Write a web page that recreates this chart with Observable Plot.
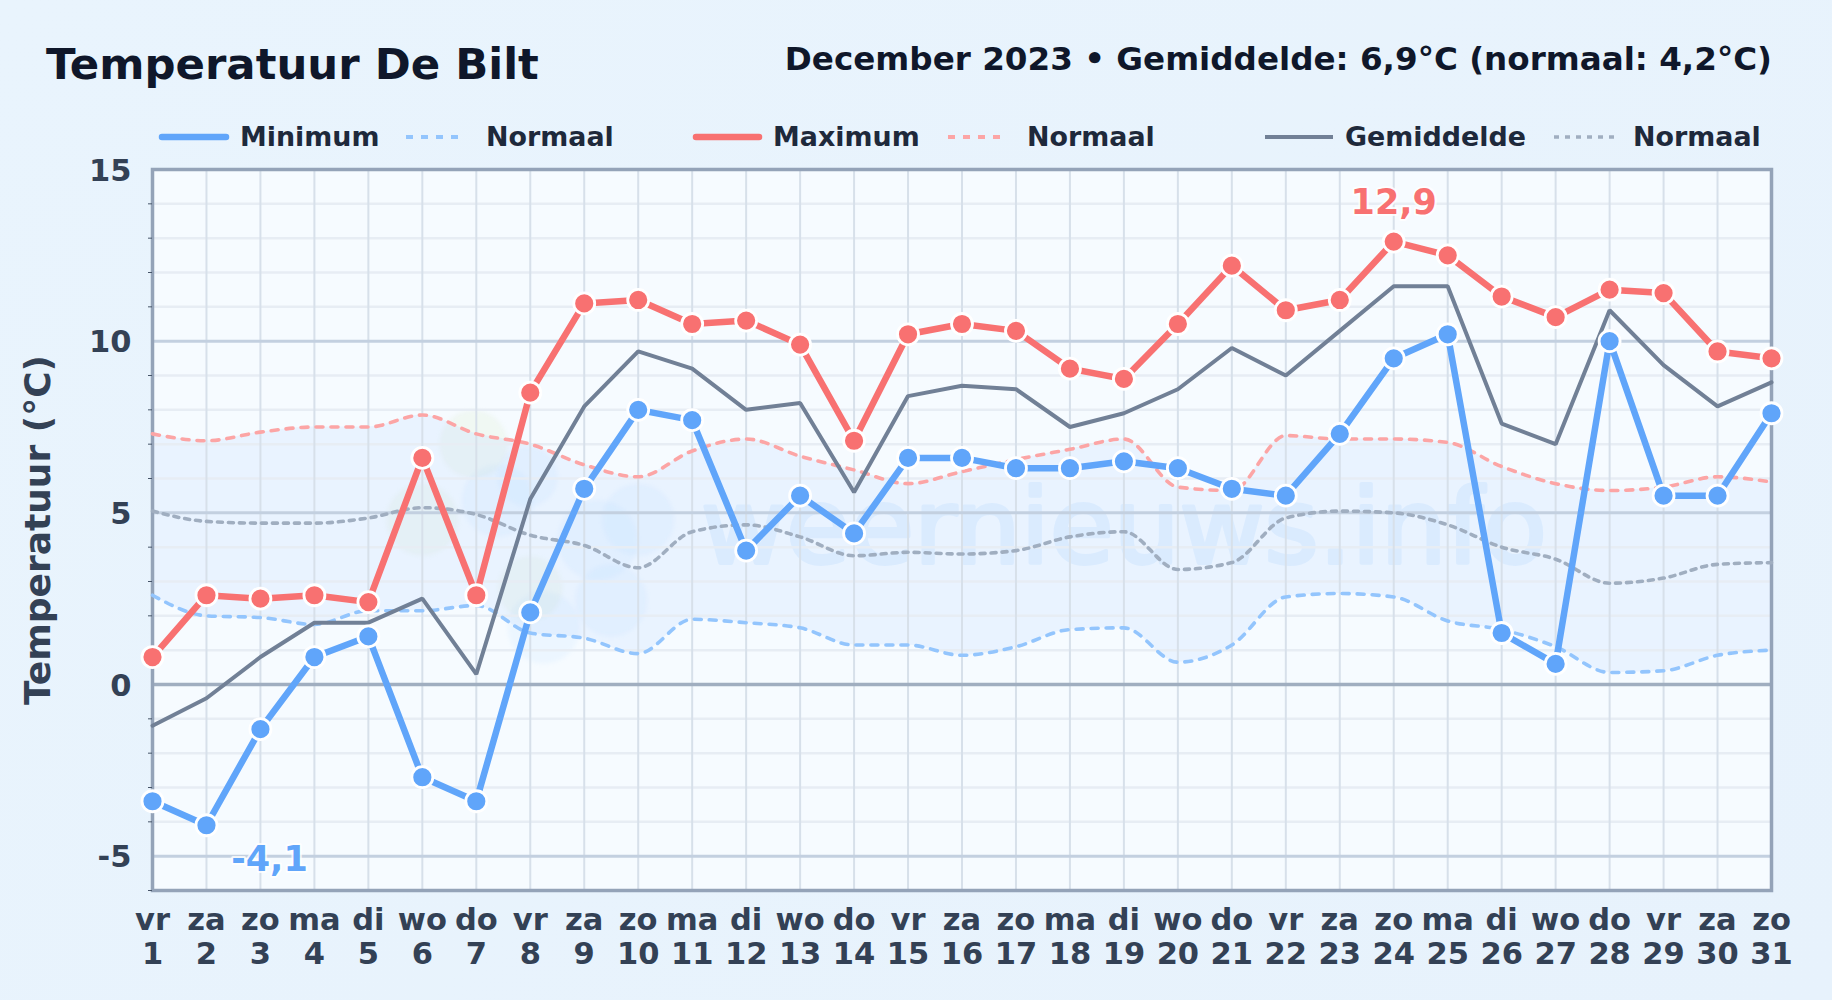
<!DOCTYPE html>
<html><head><meta charset="utf-8">
<script src="https://cdn.jsdelivr.net/npm/d3@7"></script>
<script src="https://cdn.jsdelivr.net/npm/@observablehq/plot@0.6"></script>
<style>
html,body{margin:0;padding:0;width:1832px;height:1000px;overflow:hidden;background:linear-gradient(135deg,#e9f4fd,#e7f2fc);font-family:"DejaVu Sans",sans-serif;}
#head{position:relative;height:140px;width:1832px;}
#head div{position:absolute;white-space:nowrap;font-weight:700;}
#title{left:46px;top:39px;font-size:43.4px;line-height:50px;color:#0f172a;}
#sub{right:60px;top:41px;font-size:32.6px;line-height:36px;color:#0f172a;}
.lg{top:121px;font-size:26.9px;line-height:32px;color:#1e293b;}
#head svg{position:absolute;left:0;top:0;}
svg{overflow:visible;background:transparent;}
</style></head><body>
<div id="head">
<div id="title">Temperatuur De Bilt</div>
<div id="sub">December 2023 • Gemiddelde: 6,9°C (normaal: 4,2°C)</div>
<svg width="1832" height="140">
<line x1="162" x2="226" y1="137" y2="137" stroke="#60a5fa" stroke-width="6.5" stroke-linecap="round"/>
<line x1="406" x2="466" y1="137" y2="137" stroke="#93c5fd" stroke-width="4" stroke-dasharray="7 8"/>
<line x1="696" x2="759" y1="137" y2="137" stroke="#f87171" stroke-width="6.5" stroke-linecap="round"/>
<line x1="948" x2="1008" y1="137" y2="137" stroke="#fca5a5" stroke-width="4" stroke-dasharray="7 8"/>
<line x1="1265" x2="1333" y1="137" y2="137" stroke="#718096" stroke-width="4"/>
<line x1="1554" x2="1620" y1="137" y2="137" stroke="#a0aec0" stroke-width="3.5" stroke-dasharray="5 6"/>
</svg>
<div class="lg" style="left:240px">Minimum</div>
<div class="lg" style="left:486px">Normaal</div>
<div class="lg" style="left:773px">Maximum</div>
<div class="lg" style="left:1027px">Normaal</div>
<div class="lg" style="left:1345px">Gemiddelde</div>
<div class="lg" style="left:1633px">Normaal</div>
</div>
<div id="chart"></div>
<script>
const days = d3.range(1, 32);
const dayNames = ["vr","za","zo","ma","di","wo","do","vr","za","zo","ma","di","wo","do","vr","za","zo","ma","di","wo","do","vr","za","zo","ma","di","wo","do","vr","za","zo"];
const tMin = [-3.4,-4.1,-1.3,0.8,1.4,-2.7,-3.4,2.1,5.7,8.0,7.7,3.9,5.5,4.4,6.6,6.6,6.3,6.3,6.5,6.3,5.7,5.5,7.3,9.5,10.2,1.5,0.6,10.0,5.5,5.5,7.9];
const tMax = [0.8,2.6,2.5,2.6,2.4,6.6,2.6,8.5,11.1,11.2,10.5,10.6,9.9,7.1,10.2,10.5,10.3,9.2,8.9,10.5,12.2,10.9,11.2,12.9,12.5,11.3,10.7,11.5,11.4,9.7,9.5];
const tMean = [-1.2,-0.4,0.8,1.8,1.8,2.5,0.3,5.4,8.1,9.7,9.2,8.0,8.2,5.6,8.4,8.7,8.6,7.5,7.9,8.6,9.8,9.0,10.3,11.6,11.6,7.6,7.0,10.9,9.3,8.1,8.8];
const normMax = [7.3,7.1,7.35,7.5,7.5,7.85,7.3,7.0,6.4,6.05,6.8,7.15,6.65,6.25,5.85,6.2,6.55,6.85,7.15,5.75,5.65,7.25,7.15,7.15,7.05,6.35,5.85,5.65,5.75,6.05,5.9];
const normMean = [5.05,4.75,4.7,4.7,4.85,5.15,4.95,4.35,4.05,3.4,4.45,4.65,4.3,3.75,3.85,3.8,3.9,4.3,4.45,3.35,3.55,4.85,5.05,5.0,4.65,4.0,3.65,2.95,3.1,3.5,3.55];
const normMin = [2.6,2.0,1.95,1.75,2.15,2.15,2.3,1.5,1.35,0.9,1.9,1.8,1.65,1.15,1.15,0.85,1.1,1.6,1.65,0.65,1.15,2.55,2.65,2.55,1.85,1.6,1.1,0.35,0.4,0.85,1.0];
const majorTicks = [-5,0,5,10,15];
const minorTicks = [-6,-4,-3,-2,-1,1,2,3,4,6,7,8,9,11,12,13,14];
const logoBlueDay = [7.40,9.25,9.50,8.25,10.0,7.95];
const logoBlueTemp = [5.35,4.2,2.45,1.65,4.8,6.05];
const logoBlueR = [36,40,36,36,36,30];
const logoGreenDay = [6.95,6.0,8.0];
const logoGreenTemp = [7.0,4.8,2.8];
const logoGreenR = [34,36,32];
const table = days.map((d,i)=>({d,min:tMin[i],max:tMax[i],mean:tMean[i],nmax:normMax[i],nmean:normMean[i],nmin:normMin[i]}));
const blue = logoBlueDay.map((x,i)=>({x,y:logoBlueTemp[i],r:logoBlueR[i]}));
const green = logoGreenDay.map((x,i)=>({x,y:logoGreenTemp[i],r:logoGreenR[i]}));
const dash = {strokeDasharray:"7 8",strokeWidth:3.6,curve:"monotone-x"};
const chart = Plot.plot({
  width:1832,height:860,marginTop:29,marginBottom:110,marginLeft:152,marginRight:61,
  style:{fontFamily:"'DejaVu Sans',sans-serif",background:"transparent",overflow:"visible"},
  x:{domain:[1,31],type:"linear"},
  y:{domain:[-6,15]},
  r:{type:"identity"},
  marks:[
    Plot.frame({fill:"#f6fbff",stroke:null}),
    Plot.dot(green,{x:"x",y:"y",r:"r",fill:"#d9ecc8",fillOpacity:0.22,imageFilter:"blur(2px)"}),
    Plot.areaY(table,{x:"d",y1:"nmin",y2:"nmax",curve:"monotone-x",fill:"#bfdbfe",fillOpacity:0.24}),
    Plot.dot(blue,{x:"x",y:"y",r:"r",fill:"#93c5fd",fillOpacity:0.09,imageFilter:"blur(2px)"}),
    Plot.text(["weernieuws.info"],{x:() => 19,y:() => 4.5,text:d=>d,fontSize:104,fontWeight:"normal",fill:"#93c5fd",stroke:"#93c5fd",opacity:0.17,strokeWidth:4}),
    Plot.ruleY(minorTicks,{stroke:"#e7edf4",strokeWidth:2.5}),
    Plot.ruleX(days,{stroke:"#d7e0ea",strokeWidth:2}),
    Plot.ruleY([-5,5,10],{stroke:"#c3d0e0",strokeWidth:3}),
    Plot.ruleY([0],{stroke:"#a0aec0",strokeWidth:3.5}),
    Plot.frame({stroke:"#94a3b8",strokeWidth:3.5}),
    Plot.axisY({ticks:minorTicks,tickFormat:()=>"",tickSize:4,tickPadding:0,stroke:"#475569",label:null}),
    Plot.axisY({ticks:majorTicks,tickFormat:d=>String(d),tickSize:0,tickPadding:21,dy:1.5,fontSize:30.5,fontWeight:"bold",fill:"#334155",label:null}),
    Plot.axisX({ticks:days,tickFormat:d=>dayNames[d-1]+"\n"+d,tickSize:0,tickPadding:15.5,fontSize:30.5,fontWeight:"bold",fill:"#334155",lineHeight:1.12,label:null}),
    Plot.text(["Temperatuur (°C)"],{frameAnchor:"left",textAnchor:"middle",rotate:-90,dx:-114,fontSize:36,fontWeight:"bold",fill:"#334155"}),
    Plot.lineY(table,{x:"d",y:"nmin",stroke:"#93c5fd",...dash}),
    Plot.lineY(table,{x:"d",y:"nmax",stroke:"#fca5a5",...dash}),
    Plot.lineY(table,{x:"d",y:"nmean",stroke:"#a0aec0",...dash,strokeDasharray:"5 6"}),
    Plot.lineY(table,{x:"d",y:"mean",stroke:"#718096",strokeWidth:4,strokeLinejoin:"miter"}),
    Plot.lineY(table,{x:"d",y:"max",stroke:"#f87171",strokeWidth:6.5,strokeLinejoin:"round"}),
    Plot.dot(table,{x:"d",y:"max",r:10.5,fill:"#f87171",stroke:"#fff",strokeWidth:2.8}),
    Plot.lineY(table,{x:"d",y:"min",stroke:"#60a5fa",strokeWidth:6.5,strokeLinejoin:"round"}),
    Plot.dot(table,{x:"d",y:"min",r:10.5,fill:"#60a5fa",stroke:"#fff",strokeWidth:2.8}),
    Plot.text([{x:24,y:12.9,t:"12,9"}],{x:"x",y:"y",text:"t",dy:-39,fontSize:35,fontWeight:"bold",fill:"#f87171",stroke:"#fff",strokeWidth:4,strokeOpacity:.8,paintOrder:"stroke"}),
    Plot.text([{x:2,y:-4.1,t:"-4,1"}],{x:"x",y:"y",text:"t",dx:63,dy:35,fontSize:35,fontWeight:"bold",fill:"#60a5fa",stroke:"#fff",strokeWidth:4,strokeOpacity:.8,paintOrder:"stroke"})
  ]
});
document.getElementById("chart").appendChild(chart);
</script>
</body></html>
